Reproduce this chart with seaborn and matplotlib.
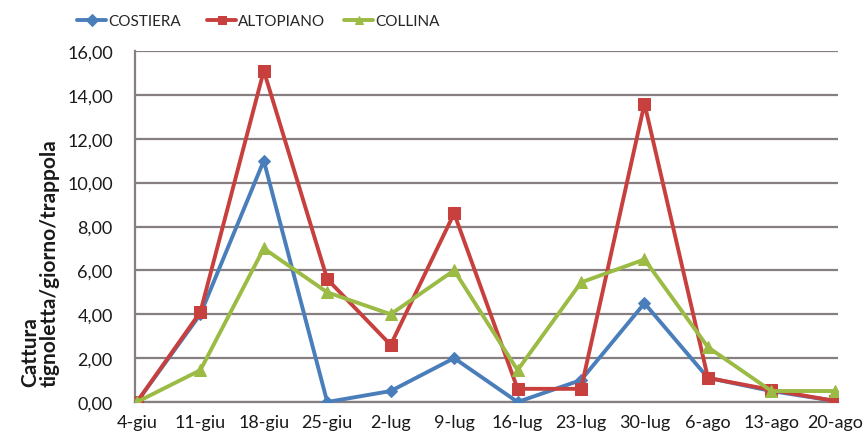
import matplotlib
matplotlib.use("Agg")
import matplotlib.pyplot as plt
import seaborn as sns
import pandas as pd
from matplotlib.ticker import FuncFormatter, MultipleLocator
from matplotlib import font_manager

# Weekly sampling dates
dates = ["4-giu", "11-giu", "18-giu", "25-giu", "2-lug", "9-lug",
         "16-lug", "23-lug", "30-lug", "6-ago", "13-ago", "20-ago"]

# Catches per trap per day for each area
costiera = [0.0, 4.0, 11.0, 0.0, 0.5, 2.0, 0.0, 1.0, 4.5, 1.1, 0.5, 0.05]
altopiano = [0.0, 4.1, 15.1, 5.6, 2.6, 8.6, 0.6, 0.6, 13.6, 1.1, 0.55, 0.05]
collina = [0.0, 1.45, 7.0, 5.0, 4.0, 6.0, 1.45, 5.45, 6.5, 2.5, 0.5, 0.5]

series_names = ["COSTIERA", "ALTOPIANO", "COLLINA"]
colors = {"COSTIERA": "#4A7EBB", "ALTOPIANO": "#C8403D", "COLLINA": "#9BBB45"}
markers = {"COSTIERA": "D", "ALTOPIANO": "s", "COLLINA": "^"}
marker_sizes = {"COSTIERA": 6.5, "ALTOPIANO": 8.5, "COLLINA": 9}
legend_x = {"COSTIERA": 77, "ALTOPIANO": 207, "COLLINA": 344}

df = pd.DataFrame({
    "pos": list(range(len(dates))) * 3,
    "value": costiera + altopiano + collina,
    "area": [n for n in series_names for _ in dates],
})

sns.set_theme(style="white")
plt.rcParams["font.family"] = ["Lato", "DejaVu Sans"]

available = {f.name for f in font_manager.fontManager.ttflist}
narrow = "Liberation Sans Narrow" if "Liberation Sans Narrow" in available else "Lato"

fig = plt.figure(figsize=(8.63, 4.39), dpi=100)
ax = fig.add_axes([135 / 863, 1 - 403 / 439, (838 - 135) / 863, (403 - 52) / 439])

for name in series_names:
    sub = df[df["area"] == name]
    sns.lineplot(data=sub, x="pos", y="value", ax=ax, color=colors[name],
                 marker=markers[name], markersize=marker_sizes[name],
                 markeredgecolor=colors[name], linewidth=2.8, label=name,
                 legend=False, zorder=3)

ax.set_xlim(-0.03, len(dates) - 1 + 0.05)
ax.set_ylim(0, 16)
ax.yaxis.set_major_locator(MultipleLocator(2))
ax.yaxis.set_major_formatter(FuncFormatter(lambda v, _: f"{v:.2f}".replace(".", ",")))
ax.set_xticks(range(len(dates)))
ax.set_xticklabels(dates)
ax.tick_params(axis="both", labelsize=13, colors="#1a1a1a", length=0)
ax.tick_params(axis="y", pad=16)
ax.tick_params(axis="x", pad=9)
ax.set_xlabel("")
ax.set_ylabel("")

fig.text(40 / 863, 1 - 263 / 439, "Cattura\ntignoletta/giorno/trappola",
         rotation=90, ha="center", va="center", multialignment="left",
         fontsize=15, fontweight="bold", linespacing=1.0, color="#1a1a1a")

ax.grid(axis="y", color="#877f7f", linewidth=1.6)
ax.grid(axis="x", visible=False)
for side in ["top", "right"]:
    ax.spines[side].set_visible(False)
for side in ["left", "bottom"]:
    ax.spines[side].set_color("#877f7f")
    ax.spines[side].set_linewidth(1.6)

# One legend entry per series, laid out along the top
handles, labels = ax.get_legend_handles_labels()
for h, lab in zip(handles, labels):
    leg = fig.legend([h], [lab], loc="center left",
                     bbox_to_anchor=(legend_x[lab] / 863, 1 - 22 / 439),
                     frameon=False, handlelength=1.9, handletextpad=0.15,
                     borderaxespad=0, borderpad=0,
                     prop={"family": narrow, "size": 11})
    for lh in leg.legend_handles:
        lh.set_markersize(6)

fig.savefig("out.png", dpi=100, facecolor="white")
